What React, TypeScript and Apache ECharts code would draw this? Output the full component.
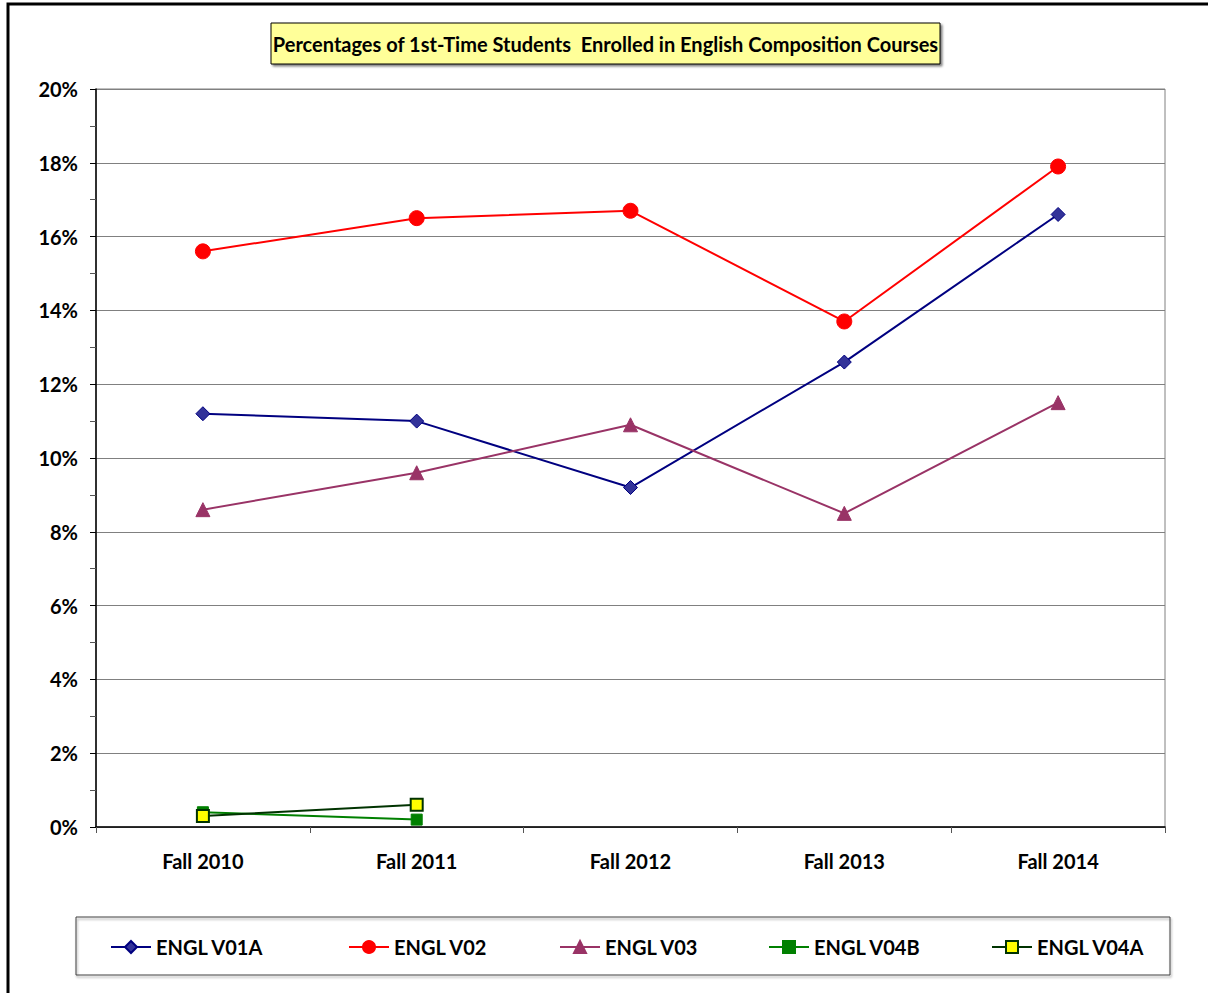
import React, { useEffect, useRef } from "react";
import * as echarts from "echarts";

const categories = ["Fall 2010", "Fall 2011", "Fall 2012", "Fall 2013", "Fall 2014"];
const v01a = [11.2, 11.0, 9.2, 12.6, 16.6];
const v02 = [15.6, 16.5, 16.7, 13.7, 17.9];
const v03 = [8.6, 9.6, 10.9, 8.5, 11.5];
const v04b = [0.4, 0.2, null, null, null];
const v04a = [0.3, 0.6, null, null, null];
const seriesNames = ["ENGL V01A", "ENGL V02", "ENGL V03", "ENGL V04B", "ENGL V04A"];
const titleText = "Percentages of 1st-Time Students  Enrolled in English Composition Courses";

const FONT = "Lato, 'Liberation Sans', sans-serif";

export default function App() {
  const ref = useRef<HTMLDivElement>(null);
  useEffect(() => {
    if (!ref.current) return;
    const chart = echarts.init(ref.current, null, { renderer: "svg" });
    const legendX = [110, 348, 559, 768, 991];
    chart.setOption({
      animation: false,
      backgroundColor: "#ffffff",
      textStyle: { fontFamily: FONT },
      grid: {
        left: 96,
        top: 89,
        right: 43,
        bottom: 166,
        show: true,
        borderColor: "#808080",
        borderWidth: 1,
        backgroundColor: "transparent",
      },
      xAxis: {
        type: "category",
        data: categories,
        boundaryGap: true,
        axisLine: { lineStyle: { color: "#000000", width: 1.5 } },
        axisTick: { show: true, length: 6, inside: false, lineStyle: { color: "#555" } },
        axisLabel: { color: "#000", fontWeight: "bold", fontSize: 20, fontFamily: FONT, margin: 24 },
      },
      yAxis: {
        type: "value",
        min: 0,
        max: 20,
        interval: 2,
        axisLine: { show: true, lineStyle: { color: "#000000", width: 1.5 } },
        axisTick: { show: true, length: 6, lineStyle: { color: "#000" } },
        minorTick: { show: true, splitNumber: 2, length: 6, lineStyle: { color: "#555" } },
        splitLine: { show: true, lineStyle: { color: "#808080", width: 1 } },
        axisLabel: {
          color: "#000",
          fontWeight: "bold",
          fontSize: 20,
          fontFamily: FONT,
          margin: 18,
          formatter: (v: number) => `${v}%`,
        },
      },
      legend: seriesNames.map((n, i) => ({
        data: [n],
        left: legendX[i],
        top: 937,
        itemWidth: 40,
        itemHeight: 15,
        itemGap: 0,
        padding: 0,
        textStyle: { color: "#000", fontWeight: "bold", fontSize: 20, fontFamily: FONT },
      })),
      graphic: [
        {
          type: "rect",
          shape: { x: 8, y: 4, width: 1260, height: 1060 },
          style: { fill: "none", stroke: "#000", lineWidth: 3 },
          z: 100,
          silent: true,
        },
        {
          type: "rect",
          shape: { x: 271, y: 23, width: 669, height: 41 },
          style: {
            fill: "#FFFF99",
            stroke: "#000",
            lineWidth: 1,
            shadowColor: "rgba(0,0,0,0.5)",
            shadowOffsetX: 2,
            shadowOffsetY: 2,
            shadowBlur: 2,
          },
          z: 10,
        },
        {
          type: "text",
          x: 605.5,
          y: 44,
          style: {
            text: titleText,
            fill: "#000",
            fontWeight: "bold",
            fontSize: 20,
            fontFamily: FONT,
            align: "center",
            verticalAlign: "middle",
          },
          z: 11,
        },
        {
          type: "rect",
          shape: { x: 76, y: 917, width: 1094, height: 58 },
          style: {
            fill: "none",
            stroke: "#404040",
            lineWidth: 1,
            shadowColor: "rgba(0,0,0,0.4)",
            shadowOffsetX: 1,
            shadowOffsetY: 2,
            shadowBlur: 2,
          },
          z: 1,
        },
      ],
      series: [
        {
          name: seriesNames[0],
          type: "line",
          data: v01a,
          symbol: "diamond",
          symbolSize: 14,
          lineStyle: { color: "#000080", width: 2 },
          itemStyle: { color: "#333399", borderColor: "#000080", borderWidth: 1 },
        },
        {
          name: seriesNames[1],
          type: "line",
          data: v02,
          symbol: "circle",
          symbolSize: 15,
          lineStyle: { color: "#FF0000", width: 2 },
          itemStyle: { color: "#FF0000", borderColor: "#FF0000", borderWidth: 1 },
        },
        {
          name: seriesNames[2],
          type: "line",
          data: v03,
          symbol: "triangle",
          symbolSize: 14,
          lineStyle: { color: "#993366", width: 2 },
          itemStyle: { color: "#993366", borderColor: "#993366", borderWidth: 1 },
        },
        {
          name: seriesNames[3],
          type: "line",
          data: v04b,
          symbol: "rect",
          symbolSize: 11,
          connectNulls: false,
          lineStyle: { color: "#008000", width: 2 },
          itemStyle: { color: "#008000", borderColor: "#008000", borderWidth: 1 },
        },
        {
          name: seriesNames[4],
          type: "line",
          data: v04a,
          symbol: "rect",
          symbolSize: 12,
          connectNulls: false,
          lineStyle: { color: "#003300", width: 2 },
          itemStyle: { color: "#FFFF00", borderColor: "#003300", borderWidth: 2 },
        },
      ],
    });
    return () => chart.dispose();
  }, []);
  return (
    <div
      ref={ref}
      style={{ position: "absolute", left: 0, top: 0, width: 1208, height: 993 }}
    />
  );
}
